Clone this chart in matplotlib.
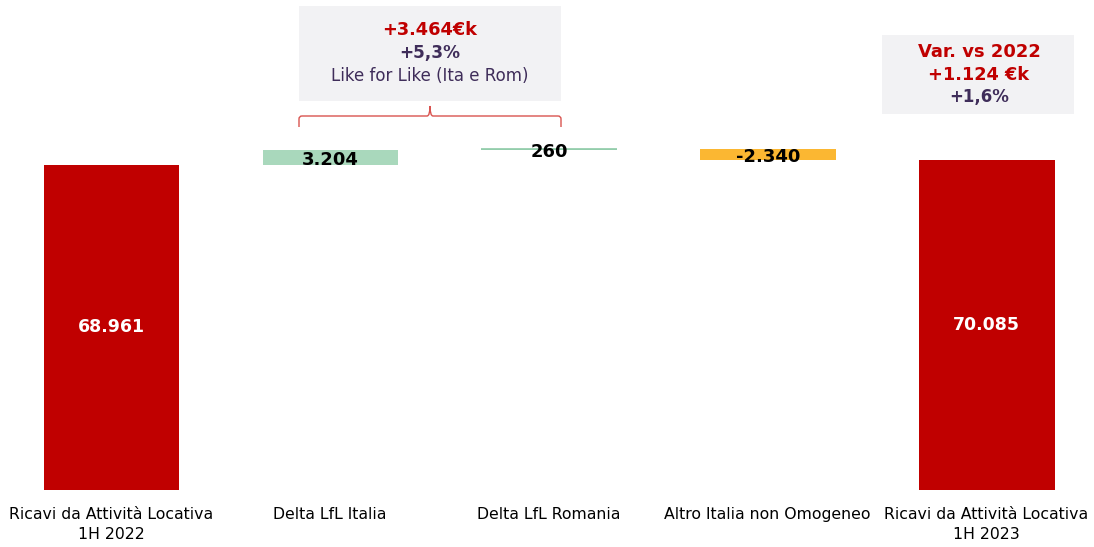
import matplotlib.pyplot as plt
from matplotlib.path import Path
from matplotlib.patches import PathPatch, Rectangle

categories = ['Ricavi da Attività Locativa\n1H 2022', 'Delta LfL Italia', 'Delta LfL Romania',
              'Altro Italia non Omogeneo', 'Ricavi da Attività Locativa\n1H 2023']
values = [68961, 3204, 260, -2340, 70085]
labels = ['68.961', '3.204', '260', '-2.340', '70.085']
kinds = ['total', 'delta', 'delta', 'delta', 'total']

RED = '#C00000'
GREEN = '#A9D8BC'
ORANGE = '#FBB732'
PURPLE = '#3F2D5A'
BOX = '#F2F2F4'

fig = plt.figure(figsize=(10.94, 5.47), dpi=100)
ax = fig.add_axes([0, 57 / 547, 1, 490 / 547])

# waterfall bottoms / heights
bottoms, heights, colors = [], [], []
running = 0
for v, k in zip(values, kinds):
    if k == 'total':
        bottoms.append(0)
        heights.append(v)
        colors.append(RED)
        running = v
    else:
        if v >= 0:
            bottoms.append(running)
            colors.append(GREEN)
        else:
            bottoms.append(running + v)
            colors.append(ORANGE)
        heights.append(abs(v))
        running += v

x = range(len(values))
ax.bar(x, heights, bottom=bottoms, width=0.62, color=colors, linewidth=0)
# thin line for the tiny Romania delta
ax.hlines(bottoms[2] + heights[2] / 2, 2 - 0.31, 2 + 0.31, color='#8FCBA8', lw=1.2)

for i, (b, h, lab, k) in enumerate(zip(bottoms, heights, labels, kinds)):
    if k == 'total':
        ax.text(i, h / 2, lab, ha='center', va='center', color='white',
                fontsize=12.5, fontweight='bold')
    else:
        # labels sit slightly low on the small delta bars
        ax.text(i, b + h / 2 - 550, lab, ha='center', va='center', color='black',
                fontsize=13, fontweight='bold')

ax.set_xlim(-0.51, 4.49)
ax.set_ylim(0, 103970)
ax.axis('off')

for i, c in enumerate(categories):
    fig.text((111.5 + i * 218.6) / 1094, 1 - 507 / 547, c, ha='center', va='top',
             fontsize=11.3, color='black', linespacing=1.45)

# annotation boxes (pixel coords -> figure fraction)
def px(xp, yp):
    return xp / 1094, 1 - yp / 547

x0, y0 = px(299, 101)
fig.patches.append(Rectangle((x0, y0), 262 / 1094, 95 / 547, transform=fig.transFigure,
                             facecolor=BOX, edgecolor='none'))
fig.text(*px(430, 30), '+3.464€k', ha='center', va='center', color=RED,
         fontsize=12.8, fontweight='bold')
fig.text(*px(430, 53), '+5,3%', ha='center', va='center', color=PURPLE,
         fontsize=12.2, fontweight='bold')
fig.text(*px(430, 76), 'Like for Like (Ita e Rom)', ha='center', va='center', color=PURPLE,
         fontsize=12)

x0, y0 = px(882, 114)
fig.patches.append(Rectangle((x0, y0), 192 / 1094, 79 / 547, transform=fig.transFigure,
                             facecolor=BOX, edgecolor='none'))
fig.text(*px(979, 52), 'Var. vs 2022', ha='center', va='center', color=RED,
         fontsize=13, fontweight='bold')
fig.text(*px(979, 75), '+1.124 €k', ha='center', va='center', color=RED,
         fontsize=12.8, fontweight='bold')
fig.text(*px(979, 97), '+1,6%', ha='center', va='center', color=PURPLE,
         fontsize=12, fontweight='bold')

# curly brace over the like-for-like deltas
pts = [(299, 127), (299, 119), (299, 116), (302, 116), (427, 116), (430, 116), (430, 106),
       (430, 116), (433, 116), (558, 116), (561, 116), (561, 119), (561, 127)]
codes = [Path.MOVETO, Path.LINETO, Path.CURVE3, Path.CURVE3, Path.LINETO, Path.CURVE3, Path.CURVE3,
         Path.CURVE3, Path.CURVE3, Path.LINETO, Path.CURVE3, Path.CURVE3, Path.LINETO]
brace = Path([px(a, b) for a, b in pts], codes)
fig.patches.append(PathPatch(brace, transform=fig.transFigure, facecolor='none',
                             edgecolor='#D9534F', lw=1))

fig.savefig('out.png', dpi=100)
